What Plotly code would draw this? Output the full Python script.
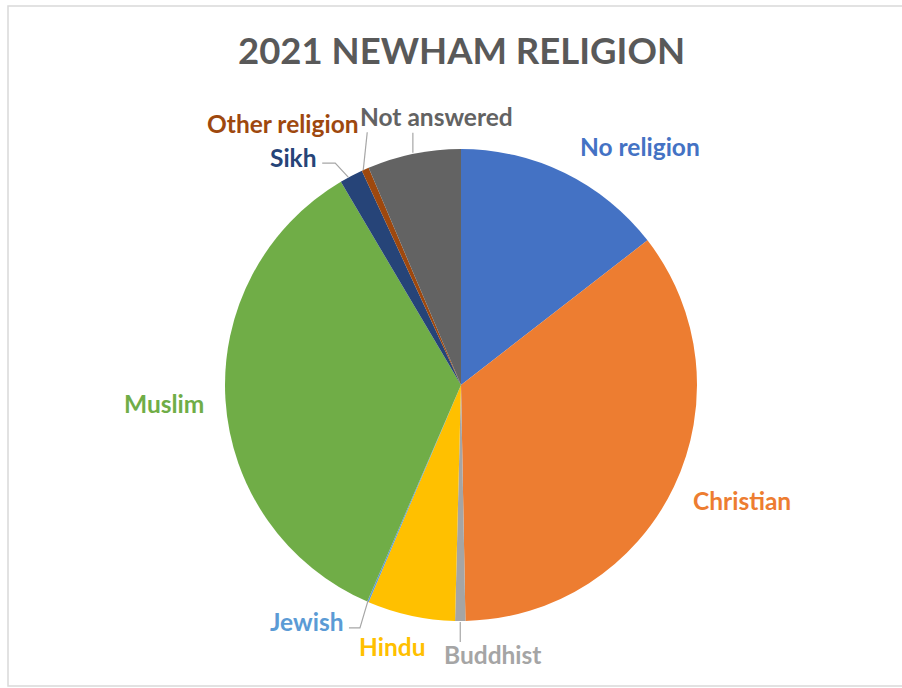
import math
import plotly.graph_objects as go

# ---- data ----
categories = ["No religion", "Christian", "Buddhist", "Hindu", "Jewish",
              "Muslim", "Sikh", "Other religion", "Not answered"]
values = [14.5, 35.2, 0.7, 6.0, 0.1, 35.0, 1.6, 0.5, 6.4]
colors = ["#4472C4", "#ED7D31", "#A5A5A5", "#FFC000", "#5B9BD5",
          "#70AD47", "#264478", "#9E480E", "#636363"]
title_text = "2021 NEWHAM RELIGION"

# ---- layout / style ----
W, H = 902, 688
CX, CY, R = 461, 385, 236          # pie centre and radius in pixels
FONT = "Lato"

# label offsets (pixels) from the slice's mid-angle edge point
label_offset = {
    "No religion": (75, -27), "Christian": (68, 14), "Buddhist": (32, 34),
    "Hindu": (-19, 31), "Jewish": (-61, 20), "Muslim": (-61, 4),
    "Sikh": (-58, -19), "Other religion": (-82, -46), "Not answered": (23, -37),
}
# leader-line vertices relative to the edge point
leader = {
    "Buddhist": [(0, 1), (0, 21)],
    "Jewish": [(0, -1), (-8, 26), (-19, 26)],
    "Sikh": [(-3, 1), (-16, -13), (-29, -13)],
    "Other religion": [(-2, 1), (2, -37)],
    "Not answered": [(-1, -1), (-1, -21)],
}


def px(x):
    return x / W


def py(y):
    return 1 - y / H


fig = go.Figure(go.Pie(
    labels=categories, values=values, sort=False, direction="clockwise",
    rotation=0, marker=dict(colors=colors, line=dict(width=0)),
    textinfo="none", hoverinfo="label+value", showlegend=False,
    domain=dict(x=[px(CX - R), px(CX + R)], y=[py(CY + R), py(CY - R)]),
))

total = sum(values)
annotations = []
shapes = []
cum = 0.0
for cat, val, col in zip(categories, values, colors):
    mid = (cum + val / 2) / total * 2 * math.pi
    cum += val
    ex = CX + R * math.sin(mid)
    ey = CY - R * math.cos(mid)
    dx, dy = label_offset[cat]
    annotations.append(dict(
        x=px(ex + dx), y=py(ey + dy), xref="paper", yref="paper",
        text=f"<b>{cat}</b>", showarrow=False, xanchor="center", yanchor="middle",
        font=dict(family=FONT, size=24.5, color=col),
    ))
    if cat in leader:
        pts = leader[cat]
        path = "M " + " L ".join(f"{px(ex + a):.5f},{py(ey + b):.5f}" for a, b in pts)
        shapes.append(dict(type="path", path=path, xref="paper", yref="paper",
                           line=dict(color="#A6A6A6", width=1.2)))

# title
annotations.append(dict(
    x=px(461), y=py(50), xref="paper", yref="paper", text=f"<b>{title_text}</b>",
    showarrow=False, xanchor="center", yanchor="middle",
    font=dict(family=FONT, size=36.5, color="#595959"),
))

# chart frame
shapes.append(dict(type="rect", xref="paper", yref="paper",
                   x0=px(8), x1=1.05, y0=py(686), y1=py(6),
                   line=dict(color="#D9D9D9", width=1.5), fillcolor="rgba(0,0,0,0)"))

fig.update_layout(
    width=W, height=H, margin=dict(l=0, r=0, t=0, b=0),
    paper_bgcolor="white", plot_bgcolor="white",
    annotations=annotations, shapes=shapes,
)

fig.write_html("out.html")
